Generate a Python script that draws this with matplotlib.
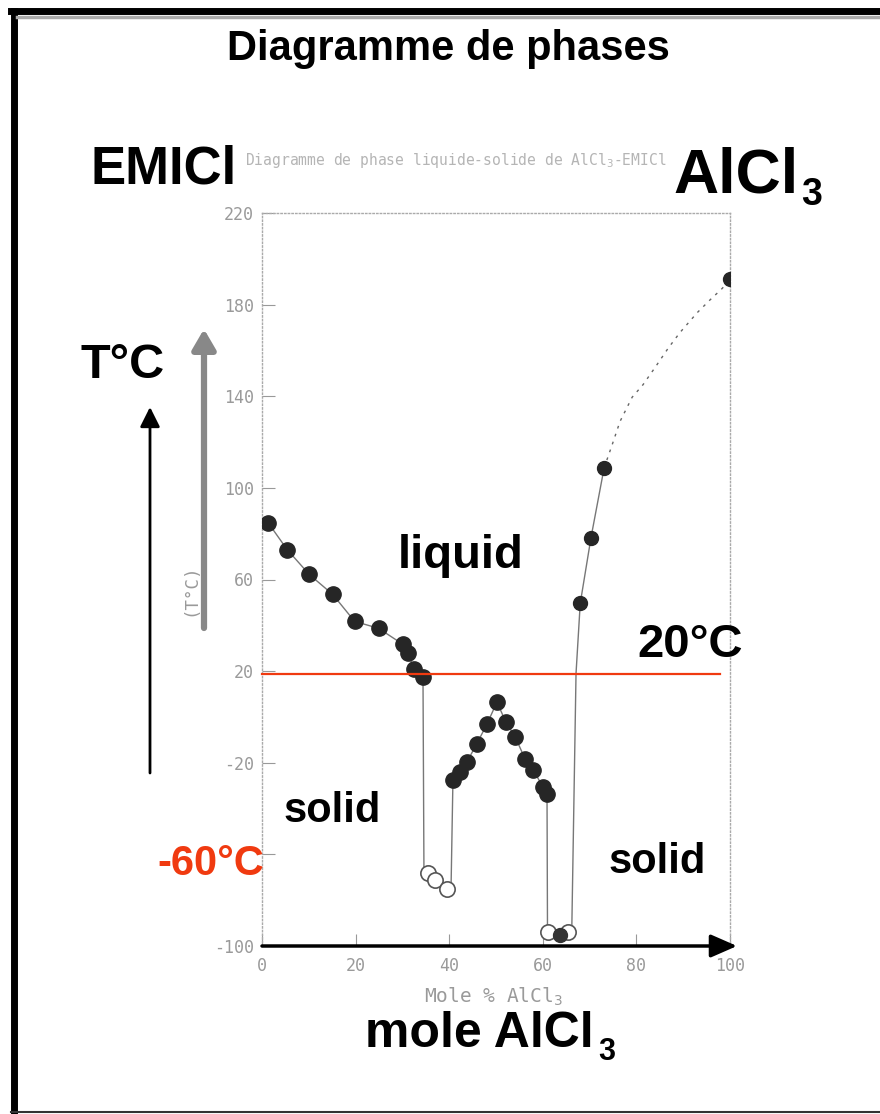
import numpy as np
import matplotlib
matplotlib.use('Agg')
import matplotlib.pyplot as plt
from matplotlib.lines import Line2D

W, H = 880, 1114

# data (mole % AlCl3, T in degC)
liq_left_x = [1.3, 5.4, 10.1, 15.1, 19.8, 24.9, 30.1, 31.2, 32.5, 34.4]
liq_left_t = [84.8, 73.0, 62.2, 53.5, 41.7, 38.7, 31.7, 27.8, 20.9, 17.4]
eut1_x = [35.5, 37.0, 39.5]
eut1_t = [-68, -71, -75]
mid_x = [40.8, 42.3, 43.8, 45.9, 48.1, 50.2, 52.1, 54.1, 56.2, 57.9, 60.0, 60.9]
mid_t = [-27.4, -24.0, -19.6, -11.7, -3.0, 6.5, -2.2, -8.7, -18.3, -23.0, -30.4, -33.5]
eut2_x = [61.1, 65.4]
eut2_t = [-94, -94]
eut2f_x = [63.7]
eut2f_t = [-95]
right_x = [68.0, 70.3, 73.1, 100.0]
right_t = [49.6, 78.3, 108.7, 191.0]

# solid connecting curve
curve_x = liq_left_x + [34.6, 35.5, 37.0, 39.5, 40.4] + mid_x + [61.0, 61.1, 63.7, 65.4, 66.2, 67.1, 68.0, 70.3, 73.1]
curve_t = liq_left_t + [-66, -68, -71, -75, -74] + mid_t + [-92, -94, -95, -94, -92, 19, 49.6, 78.3, 108.7]
# dashed extrapolation
dash_x = [73.1, 74.8, 76.5, 79.1, 81.4, 84.0, 86.8, 89.3, 93.0, 95.7, 98.3, 100.0]
dash_t = [108.7, 118.7, 129, 139.6, 145, 152.6, 161, 167.8, 176.5, 182, 187, 191]

yticks = [-100, -60, -20, 20, 60, 100, 140, 180, 220]
ylabels = ['-100', '', '-20', '20', '60', '100', '140', '180', '220']  # -60 hidden under red label
xticks = [0, 20, 40, 60, 80, 100]
xlabels = ['0', '20', '40', '60', '80', '100']
t_line = 18.7

def fx(x):
    return x / W

def fy(y):
    return 1 - y / H

fig = plt.figure(figsize=(8.8, 11.14), dpi=100)
fig.patch.set_facecolor('white')
ax = fig.add_axes([fx(262), fy(946), (730-262)/W, (946-213)/H])

grey = '#9a9a9a'
mono = 'DejaVu Sans Mono'
ax.plot(curve_x, curve_t, color='#777777', lw=1.0, zorder=2)
ax.plot(dash_x, dash_t, color='#666666', lw=1.0, ls=(0, (2, 4)), zorder=2)
ax.plot(liq_left_x, liq_left_t, 'o', color='#262626', ms=11, zorder=3)
ax.plot(mid_x, mid_t, 'o', color='#262626', ms=11, zorder=3)
ax.plot(right_x, right_t, 'o', color='#262626', ms=10, zorder=3)
ax.plot(eut1_x, eut1_t, 'o', mfc='white', mec='#555555', mew=1.2, ms=11, zorder=3)
ax.plot(eut2_x, eut2_t, 'o', mfc='white', mec='#555555', mew=1.2, ms=11, zorder=3)
ax.plot(eut2f_x, eut2f_t, 'o', color='#333333', ms=10, zorder=4)
ax.plot([0, 97.9], [t_line, t_line], color='#f03a10', lw=1.6, zorder=5, clip_on=False)

ax.set_xlim(0, 100)
ax.set_ylim(-100, 220)
ax.set_yticks(yticks)
ax.set_yticklabels(ylabels, family=mono)
ax.set_xticks(xticks)
ax.set_xticklabels(xlabels, family=mono)
ax.tick_params(axis='both', direction='in', length=9, width=0.8, color='#999999',
               labelcolor=grey, labelsize=12)
ax.tick_params(axis='x', pad=8)
ax.tick_params(axis='y', pad=6)
for s in ['left', 'top', 'right']:
    ax.spines[s].set_linestyle(':')
    ax.spines[s].set_color('#aaaaaa')
    ax.spines[s].set_linewidth(1.0)
ax.spines['bottom'].set_visible(False)
ax.set_xlabel('Mole % AlCl$_3$', color=grey, fontsize=14, family=mono)
ax.xaxis.set_label_coords((493-262)/468, (946-997)/733)
ax.xaxis.label.set_va('center')
ax.set_ylabel('(T°C)', color=grey, fontsize=12.5, family=mono)
ax.yaxis.set_label_coords((190-262)/468, (946-590)/733)
ax.yaxis.label.set_va('center')
ax.annotate('', xy=(101.5, -100), xytext=(0, -100),
            arrowprops=dict(arrowstyle='-|>,head_length=0.8,head_width=0.35', lw=2.5,
                            color='black', mutation_scale=20, shrinkA=0, shrinkB=0),
            annotation_clip=False)

# vertical arrows
ax.annotate('', xy=(fx(150), fy(407)), xycoords='figure fraction',
            xytext=(fx(150), fy(773)), textcoords='figure fraction',
            arrowprops=dict(arrowstyle='-|>,head_length=0.6,head_width=0.3', lw=2,
                            color='black', mutation_scale=20, shrinkA=0, shrinkB=0))
ax.annotate('', xy=(fx(204), fy(329)), xycoords='figure fraction',
            xytext=(fx(204), fy(628)), textcoords='figure fraction',
            arrowprops=dict(arrowstyle='-|>,head_length=0.6,head_width=0.35', lw=4.5,
                            color='#888888', mutation_scale=20, shrinkA=0, shrinkB=0))

# scanned small title
fig.text(fx(456), fy(160), 'Diagramme de phase liquide-solide de AlCl$_3$-EMICl',
         ha='center', va='center', fontsize=10.5, color='#b5b5b5', family=mono)

bold = dict(family='Liberation Sans', weight='bold', color='black')
fig.text(fx(448), fy(49), 'Diagramme de phases', ha='center', va='center', fontsize=30, **bold)
fig.text(fx(90), fy(183), 'EMICl', ha='left', va='baseline', fontsize=38, **bold)
fig.text(fx(673), fy(192), 'AlCl', ha='left', va='baseline', fontsize=45, **bold)
fig.text(fx(801), fy(205), '3', ha='left', va='baseline', fontsize=27, **bold)
fig.text(fx(80), fy(378), 'T°C', ha='left', va='baseline', fontsize=35, **bold)
fig.text(fx(398), fy(568), 'liquid', ha='left', va='baseline', fontsize=34, **bold)
fig.text(fx(637), fy(657), '20°C', ha='left', va='baseline', fontsize=34, **bold)
fig.text(fx(283), fy(822), 'solid', ha='left', va='baseline', fontsize=30, **bold)
fig.text(fx(608), fy(873), 'solid', ha='left', va='baseline', fontsize=30, **bold)
fig.text(fx(157), fy(875), '-60°C', ha='left', va='baseline', fontsize=30,
         family='Liberation Sans', weight='bold', color='#f03a10')
fig.text(fx(365), fy(1047), 'mole AlCl', ha='left', va='baseline', fontsize=36, **bold)
fig.text(fx(598), fy(1060), '3', ha='left', va='baseline', fontsize=22, **bold)

# page border of the scan
fig.add_artist(Line2D([fx(13.5), fx(13.5)], [fy(11), fy(1112)], color='black', lw=5,
                      transform=fig.transFigure))
fig.add_artist(Line2D([fx(11), fx(880)], [fy(11), fy(11)], color='black', lw=5,
                      transform=fig.transFigure))
fig.add_artist(Line2D([fx(17), fx(880)], [fy(17), fy(17)], color='#aaaaaa', lw=2.5,
                      transform=fig.transFigure))
fig.add_artist(Line2D([fx(11), fx(880)], [fy(1112), fy(1112)], color='#333333', lw=1.5,
                      transform=fig.transFigure))

fig.savefig('out.png', dpi=100)
